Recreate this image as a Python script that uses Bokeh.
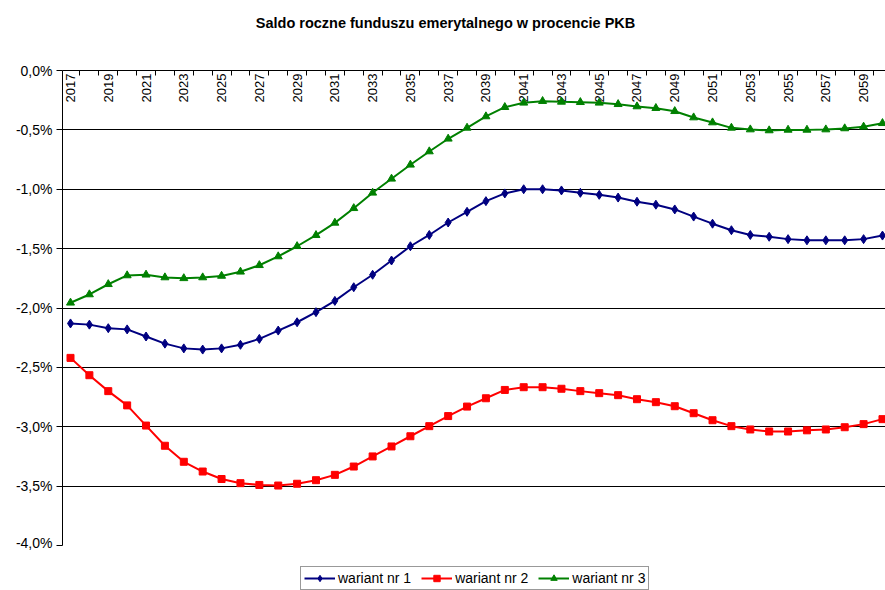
import math
from bokeh.plotting import figure
from bokeh.layouts import column
from bokeh.models import Range1d, FixedTicker, Legend, LegendItem, Label
from bokeh.core.properties import value
from bokeh.embed import file_html
from bokeh.resources import INLINE

years = list(range(2017, 2061))
wariant1 = [-2.13, -2.14, -2.17, -2.18, -2.24, -2.30, -2.34, -2.35, -2.34, -2.31, -2.26, -2.19,
            -2.12, -2.035, -1.94, -1.825, -1.72, -1.60, -1.48, -1.385, -1.28, -1.19, -1.10, -1.035,
            -1.00, -1.00, -1.01, -1.03, -1.047, -1.07, -1.105, -1.13, -1.17, -1.23, -1.29, -1.345,
            -1.385, -1.40, -1.42, -1.43, -1.43, -1.43, -1.42, -1.39]
wariant2 = [-2.42, -2.566, -2.70, -2.82, -2.99, -3.16, -3.295, -3.377, -3.44, -3.475, -3.49, -3.495,
            -3.48, -3.45, -3.405, -3.335, -3.25, -3.166, -3.08, -2.995, -2.91, -2.83, -2.76, -2.69,
            -2.667, -2.667, -2.68, -2.70, -2.717, -2.734, -2.768, -2.793, -2.827, -2.886, -2.945, -2.995,
            -3.023, -3.04, -3.04, -3.03, -3.023, -3.004, -2.978, -2.936]
wariant3 = [-1.956, -1.886, -1.80, -1.726, -1.72, -1.743, -1.75, -1.743, -1.73, -1.695, -1.64, -1.566,
            -1.48, -1.387, -1.283, -1.16, -1.03, -0.912, -0.794, -0.682, -0.575, -0.483, -0.387, -0.309,
            -0.272, -0.258, -0.264, -0.267, -0.272, -0.284, -0.303, -0.317, -0.343, -0.396, -0.438, -0.483,
            -0.497, -0.505, -0.50, -0.50, -0.497, -0.488, -0.474, -0.444]
series_names = ["wariant nr 1", "wariant nr 2", "wariant nr 3"]
y_ticks = [0.0, -0.5, -1.0, -1.5, -2.0, -2.5, -3.0, -3.5, -4.0]
y_tick_labels = ["0,0%", "-0,5%", "-1,0%", "-1,5%", "-2,0%", "-2,5%", "-3,0%", "-3,5%", "-4,0%"]
x_label_years = years[::2]
x_label_texts = [str(y) for y in x_label_years]
title_text = "Saldo roczne funduszu emerytalnego w procencie PKB"

FONT = "Liberation Sans"
colors = ["#000080", "#FF0000", "#008000"]
markers = ["diamond", "square", "triangle"]
sizes = [9, 7, 8]
series = [wariant1, wariant2, wariant3]


def blank_strip(h):
    f = figure(width=885, height=h, output_backend="svg", toolbar_location=None,
               x_range=Range1d(2016.576, 2060.16), y_range=Range1d(0.0, 1.0),
               x_axis_location=None, y_axis_location=None,
               min_border_left=0, min_border_right=0, min_border_top=0, min_border_bottom=0,
               background_fill_color="white", border_fill_color="white")
    f.outline_line_color = None
    f.grid.grid_line_color = None
    return f


# title strip (its frame is aligned with the chart frame, which starts 62px in)
tf = blank_strip(40)
tf.add_layout(Label(x=383, y=18, x_units="screen", y_units="screen", text=title_text,
                    text_align="center", text_baseline="middle", text_font=FONT,
                    text_font_size="14.5px", text_font_style="bold", text_color="black"))

# main chart
p = figure(width=885, height=510, output_backend="svg", toolbar_location=None,
           x_range=Range1d(2016.576, 2060.16), y_range=Range1d(-4.0, 0.0),
           x_axis_location="above",
           min_border_left=62, min_border_right=0, min_border_top=30, min_border_bottom=5,
           background_fill_color="white", border_fill_color="white")
p.outline_line_color = None

# category axis along the top edge (y = 0): boundary ticks pointing into the plot
xa = p.xaxis[0]
xa.ticker = FixedTicker(ticks=[], minor_ticks=[y - 0.5 for y in years] + [years[-1] + 0.5])
xa.major_tick_out = 0
xa.major_tick_in = 0
xa.minor_tick_out = 0
xa.minor_tick_in = 5
xa.minor_tick_line_color = "black"
xa.axis_line_color = "black"
xa.major_label_standoff = 0

# year labels inside the plot, below the top axis line
p.text(x=x_label_years, y=[0.0] * len(x_label_years), text=x_label_texts,
       angle=math.pi / 2, text_align="right", text_baseline="middle",
       y_offset=3, text_font=value(FONT), text_font_size="13px", text_color="black")

ya = p.yaxis[0]
ya.ticker = FixedTicker(ticks=y_ticks)
ya.major_label_overrides = {t: l for t, l in zip(y_ticks, y_tick_labels)}
ya.major_tick_out = 6
ya.major_tick_in = 0
ya.minor_tick_line_color = None
ya.axis_line_color = "black"
ya.major_tick_line_color = "black"
ya.major_label_standoff = 4
ya.major_label_text_font = FONT
ya.major_label_text_font_size = "14px"
ya.major_label_text_color = "black"

p.xgrid.grid_line_color = None
p.ygrid.ticker = FixedTicker(ticks=y_ticks)
p.ygrid.grid_line_color = "black"
p.ygrid.grid_line_width = 1

for vals, c, m, s in zip(series, colors, markers, sizes):
    p.line(years, vals, line_color=c, line_width=2)
    p.scatter(years, vals, marker=m, size=s, fill_color=c, line_color=c)

# legend strip below the chart (same series, drawn out of view so only the legend shows)
lf = blank_strip(40)
items = []
for name, vals, c, m, s in zip(series_names, series, colors, markers, [8, 7, 8]):
    ln = lf.line(years, vals, line_color=c, line_width=2)
    sc = lf.scatter(years, vals, marker=m, size=s, fill_color=c, line_color=c)
    items.append(LegendItem(label=name, renderers=[ln, sc]))

legend = Legend(items=items, orientation="horizontal", location=(238, 0),
                label_text_font=FONT, label_text_font_size="14px", label_text_color="black",
                glyph_width=31, glyph_height=16, label_height=16, label_standoff=3,
                spacing=10, padding=3, margin=0,
                border_line_color="#333333", border_line_width=1,
                background_fill_color="white", background_fill_alpha=1)
lf.add_layout(legend)

layout = column(tf, p, lf, spacing=0)
open("out.html", "w").write(file_html(layout, INLINE))
